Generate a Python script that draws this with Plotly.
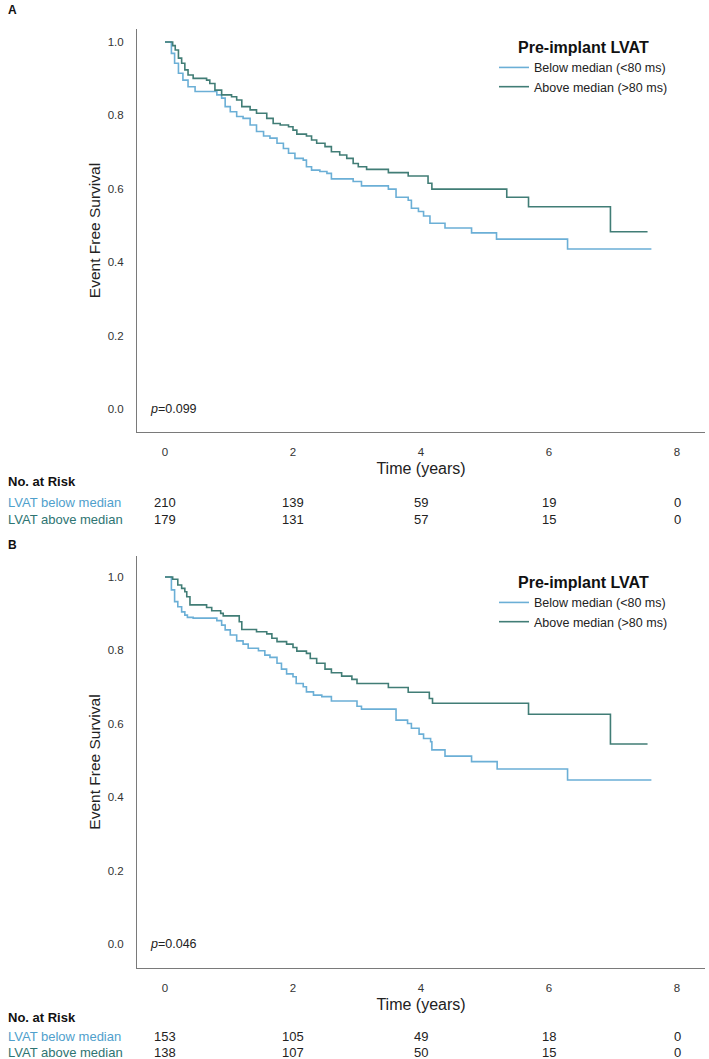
import plotly.graph_objects as go

# ---------------- data ----------------
# Panel A
a_below_t = [0, 0.10, 0.15, 0.21, 0.28, 0.36, 0.47, 0.81, 0.885, 0.94, 1.02, 1.12, 1.22, 1.33, 1.43, 1.54,
             1.64, 1.75, 1.85, 1.93, 2.03, 2.16, 2.21, 2.29, 2.42, 2.53, 2.60, 2.94, 3.07, 3.49, 3.61,
             3.80, 3.85, 3.96, 4.04, 4.14, 4.375, 4.79, 5.18, 6.29, 7.60]
a_below_s = [1.0, 0.969, 0.942, 0.915, 0.896, 0.878, 0.865, 0.856, 0.847, 0.824, 0.810, 0.797, 0.792, 0.774,
             0.756, 0.744, 0.738, 0.724, 0.710, 0.697, 0.683, 0.678, 0.660, 0.651, 0.647, 0.642, 0.627,
             0.620, 0.608, 0.599, 0.577, 0.569, 0.547, 0.538, 0.526, 0.506, 0.493, 0.480, 0.463, 0.436, 0.436]
a_above_t = [0, 0.12, 0.16, 0.21, 0.26, 0.31, 0.36, 0.44, 0.65, 0.70, 0.78, 0.885, 1.04, 1.12, 1.20, 1.33,
             1.43, 1.59, 1.69, 1.80, 1.93, 2.00, 2.06, 2.21, 2.29, 2.37, 2.50, 2.60, 2.73, 2.84, 2.94,
             3.02, 3.15, 3.49, 3.80, 4.11, 4.17, 5.34, 5.68, 6.96, 7.54]
a_above_s = [1.0, 0.99, 0.978, 0.956, 0.942, 0.924, 0.910, 0.901, 0.896, 0.887, 0.869, 0.856, 0.851, 0.842,
             0.824, 0.815, 0.806, 0.792, 0.778, 0.774, 0.769, 0.760, 0.749, 0.744, 0.733, 0.724, 0.715,
             0.701, 0.692, 0.683, 0.669, 0.660, 0.653, 0.644, 0.635, 0.615, 0.599, 0.577, 0.551, 0.483, 0.483]
a_risk_below = [210, 139, 59, 19, 0]
a_risk_above = [179, 131, 57, 15, 0]
a_p = "0.099"

# Panel B
b_below_t = [0, 0.10, 0.15, 0.20, 0.26, 0.31, 0.35, 0.44, 0.81, 0.885, 0.94, 1.02, 1.12, 1.22, 1.30, 1.46,
             1.56, 1.64, 1.75, 1.82, 1.90, 2.00, 2.05, 2.16, 2.21, 2.32, 2.45, 2.60, 3.00, 3.07, 3.61,
             3.79, 3.85, 3.97, 4.04, 4.15, 4.17, 4.375, 4.79, 5.19, 6.29, 7.60]
b_below_s = [1.0, 0.965, 0.933, 0.919, 0.905, 0.896, 0.890, 0.888, 0.881, 0.869, 0.856, 0.842, 0.826, 0.817,
             0.806, 0.799, 0.787, 0.781, 0.765, 0.749, 0.736, 0.728, 0.710, 0.701, 0.687, 0.678, 0.674,
             0.662, 0.648, 0.640, 0.610, 0.601, 0.588, 0.572, 0.560, 0.551, 0.529, 0.512, 0.497, 0.477,
             0.447, 0.447]
b_above_t = [0, 0.12, 0.20, 0.26, 0.31, 0.34, 0.39, 0.65, 0.73, 0.87, 0.91, 1.16, 1.20, 1.43, 1.59, 1.67,
             1.75, 1.90, 2.00, 2.06, 2.21, 2.27, 2.37, 2.50, 2.60, 2.76, 2.92, 3.00, 3.49, 3.80, 4.13,
             4.18, 5.68, 6.96, 7.54]
b_above_s = [1.0, 0.994, 0.978, 0.969, 0.960, 0.946, 0.924, 0.917, 0.908, 0.901, 0.894, 0.878, 0.857, 0.851,
             0.845, 0.833, 0.824, 0.817, 0.808, 0.798, 0.792, 0.778, 0.765, 0.749, 0.739, 0.730, 0.721,
             0.710, 0.699, 0.686, 0.669, 0.656, 0.626, 0.545, 0.545]
b_risk_below = [153, 105, 49, 18, 0]
b_risk_above = [138, 107, 50, 15, 0]
b_p = "0.046"

risk_times = [0, 2, 4, 6, 8]
x_ticks = [0, 2, 4, 6, 8]
y_ticks = [0.0, 0.2, 0.4, 0.6, 0.8, 1.0]
y_ticklabels = ["0.0", "0.2", "0.4", "0.6", "0.8", "1.0"]
series_names = ["Below median (<80 ms)", "Above median (>80 ms)"]
risk_labels = ["LVAT below median", "LVAT above median"]

# ---------------- styles ----------------
W, H = 709, 1059
FONT = "Liberation Sans, Arial, sans-serif"
C_LIGHT = "#6BAFD6"
C_DARK = "#417D76"
C_LIGHT_TXT = "#4FA0CC"
C_DARK_TXT = "#2E7472"
AX_COL = "#7A7A7A"


def py(px):
    return 1 - px / H


fig = go.Figure()

panels = [
    dict(key="", ax_n="", t1=a_below_t, s1=a_below_s, t2=a_above_t, s2=a_above_s,
         rb=a_risk_below, ra=a_risk_above, p=a_p, top=29, bot=432, y0=409, legend="legend",
         label="A", label_y=10, leg_top=32, risk_head=482, row1=502, row2=519),
    dict(key="2", ax_n="2", t1=b_below_t, s1=b_below_s, t2=b_above_t, s2=b_above_s,
         rb=b_risk_below, ra=b_risk_above, p=b_p, top=556, bot=968, y0=944, legend="legend2",
         label="B", label_y=545, leg_top=567, risk_head=1018, row1=1036, row2=1052),
]

x_left, x_right = 137, 705
x0_px, px_per_year = 165, 64
px_per_unit = 367
x_range = [(x_left - x0_px) / px_per_year, (x_right - x0_px) / px_per_year]

annotations = []
for p in panels:
    xa = "x" + p["ax_n"]
    ya = "y" + p["ax_n"]
    fig.add_trace(go.Scatter(x=p["t1"], y=p["s1"], mode="lines", line=dict(color=C_LIGHT, width=1.6, shape="hv"),
                             name=series_names[0], xaxis=xa, yaxis=ya, legend=p["legend"]))
    fig.add_trace(go.Scatter(x=p["t2"], y=p["s2"], mode="lines", line=dict(color=C_DARK, width=1.6, shape="hv"),
                             name=series_names[1], xaxis=xa, yaxis=ya, legend=p["legend"]))
    y_range = [(p["y0"] - p["bot"]) / px_per_unit, (p["y0"] - p["top"]) / px_per_unit]
    common_x = dict(domain=[x_left / W, x_right / W], range=x_range, tickvals=x_ticks,
                    showline=True, linecolor=AX_COL, linewidth=1, showgrid=False, zeroline=False,
                    ticks="", ticklabelstandoff=9, tickfont=dict(family=FONT, size=11.5, color="#333"),
                    title=dict(text="Time (years)", font=dict(family=FONT, size=16, color="#222"), standoff=6),
                    anchor=ya)
    common_y = dict(domain=[py(p["bot"]), py(p["top"])], range=y_range, tickvals=y_ticks,
                    ticktext=y_ticklabels, showline=True, linecolor=AX_COL, linewidth=1, showgrid=False,
                    zeroline=False, ticks="", ticklabelstandoff=10,
                    tickfont=dict(family=FONT, size=11.5, color="#333"),
                    title=dict(text="Event Free Survival", font=dict(family=FONT, size=15.5, color="#222"),
                               standoff=3),
                    anchor=xa)
    fig.update_layout(**{"xaxis" + p["key"]: common_x, "yaxis" + p["key"]: common_y})
    fig.update_layout(**{p["legend"]: dict(
        x=494 / W, y=py(p["leg_top"]), xanchor="left", yanchor="top", bgcolor="rgba(0,0,0,0)",
        font=dict(family=FONT, size=12.5, color="#222"), tracegroupgap=0, itemwidth=30,
        title=dict(text="<b>Pre-implant LVAT</b>", side="top center",
                   font=dict(family=FONT, size=16, color="#111")))})

    # panel label
    annotations.append(dict(text="<b>" + p["label"] + "</b>", x=6 / W, y=py(p["label_y"]), xref="paper",
                            yref="paper", xanchor="left", yanchor="middle", showarrow=False,
                            font=dict(family=FONT, size=12, color="#111")))
    # p value
    annotations.append(dict(text="<i>p</i>=" + p["p"], x=(148 - x0_px) / px_per_year, y=0, xref=xa,
                            yref=ya, xanchor="left", yanchor="middle", showarrow=False,
                            font=dict(family=FONT, size=12.5, color="#222")))
    # risk table
    annotations.append(dict(text="<b>No. at Risk</b>", x=6 / W, y=py(p["risk_head"]), xref="paper",
                            yref="paper", xanchor="left", yanchor="middle", showarrow=False,
                            font=dict(family=FONT, size=13, color="#111")))
    for lab, col, row, vals in [(risk_labels[0], C_LIGHT_TXT, p["row1"], p["rb"]),
                                (risk_labels[1], C_DARK_TXT, p["row2"], p["ra"])]:
        annotations.append(dict(text=lab, x=6 / W, y=py(row), xref="paper", yref="paper", xanchor="left",
                                yanchor="middle", showarrow=False, font=dict(family=FONT, size=13, color=col)))
        for t, v in zip(risk_times, vals):
            annotations.append(dict(text=str(v), x=t, y=py(row), xref=xa, yref="paper", xanchor="center",
                                    yanchor="middle", showarrow=False,
                                    font=dict(family=FONT, size=13, color="#222")))

fig.update_layout(width=W, height=H, margin=dict(l=0, r=0, t=0, b=0), plot_bgcolor="white",
                  paper_bgcolor="white", annotations=annotations, showlegend=True)

fig.write_html("out.html")
